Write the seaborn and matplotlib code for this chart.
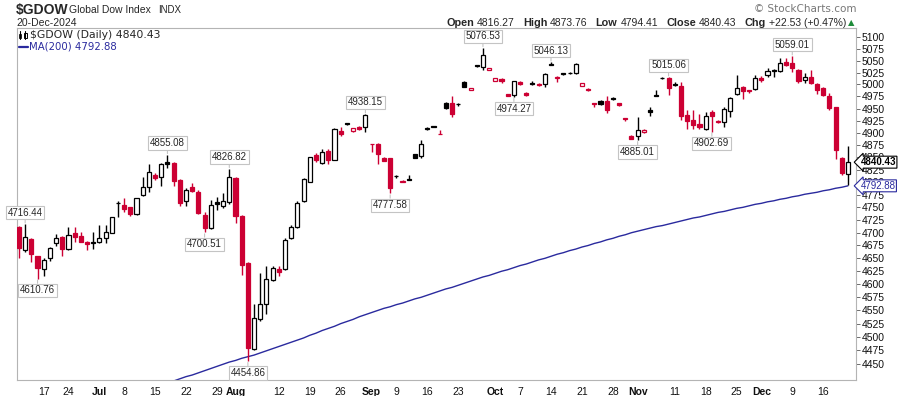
import numpy as np
import pandas as pd
import matplotlib
matplotlib.use("Agg")
import matplotlib.pyplot as plt
from matplotlib.ticker import FixedLocator, NullLocator, FuncFormatter
from matplotlib.patches import Rectangle
from matplotlib.lines import Line2D
import seaborn as sns

# ---------------- data ----------------
first_day = "2024-06-11"
last_day = "2024-12-20"
market_holidays = ["2024-06-19", "2024-07-04", "2024-09-02", "2024-11-28"]
prior_close = 4700.0

opens = [
    4711.8, 4666.3, 4688.0, 4654.6, 4628.7, 4650.1, 4679.4, 4692.2, 4667.6, 4698.8,
    4693.5, 4682.4, 4682.0, 4681.2, 4689.1, 4700.2, 4758.5, 4754.6, 4750.1, 4736.3,
    4773.9, 4789.9, 4814.6, 4811.5, 4840.0, 4838.5, 4805.5, 4761.7, 4789.9, 4781.0,
    4734.8, 4709.8, 4760.0, 4752.5, 4761.1, 4809.0, 4733.0, 4641.5, 4476.6, 4533.9,
    4562.4, 4608.0, 4628.7, 4628.7, 4689.0, 4710.6, 4762.8, 4801.5, 4854.6, 4839.0,
    4862.7, 4845.7, 4903.0, 4920.0, 4904.0, 4912.7, 4911.0, 4878.0, 4878.0, 4848.5,
    4848.5, 4813.0, 4801.0, 4807.0, 4857.0, 4852.0, 4909.5, 4914.0, 4898.5, 4961.0,
    4961.0, 4960.0, 5006.0, 4988.3, 5040.0, 5036.5, 5031.0, 5008.0, 5012.0, 4979.5,
    4978.0, 5005.0, 4981.5, 5002.0, 5001.5, 5000.0, 5042.0, 5013.0, 5023.0, 5025.0,
    5024.0, 4997.5, 4990.5, 4961.5, 4966.0, 4966.0, 4971.0, 4961.5, 4930.5, 4894.0,
    4893.5, 4901.0, 4948.0, 4978.3, 5014.0, 5013.0, 5000.0, 4997.5, 4936.0, 4926.0,
    4918.0, 4908.5, 4943.0, 4925.0, 4923.0, 4944.5, 4980.0, 4995.3, 4987.5, 4990.0,
    5013.0, 5018.8, 5030.0, 5027.8, 5046.5, 5044.0, 5031.0, 5010.0, 5016.0, 5001.7,
    4993.0, 4976.0, 4953.3, 4849.5, 4816.27]
highs = [
    4713.2, 4716.44, 4689.0, 4655.5, 4651.3, 4672.7, 4696.9, 4693.5, 4712.2, 4710.8,
    4701.8, 4683.0, 4700.6, 4715.5, 4715.5, 4731.5, 4761.7, 4767.9, 4751.4, 4769.2,
    4811.2, 4836.3, 4819.3, 4838.0, 4855.08, 4840.0, 4806.0, 4788.0, 4799.0, 4785.0,
    4740.0, 4764.6, 4770.6, 4778.0, 4826.82, 4811.0, 4734.0, 4642.0, 4562.0, 4621.8,
    4634.8, 4635.0, 4635.0, 4690.0, 4715.3, 4762.8, 4808.5, 4851.5, 4858.0, 4868.0,
    4868.0, 4909.8, 4911.0, 4921.0, 4910.0, 4914.0, 4938.15, 4878.0, 4878.5, 4850.0,
    4849.0, 4815.5, 4804.0, 4815.5, 4857.5, 4884.6, 4911.0, 4915.0, 4906.0, 4964.0,
    4975.6, 4962.0, 5007.0, 4993.0, 5040.5, 5076.53, 5035.5, 5013.5, 5012.5, 4980.0,
    5007.0, 5006.5, 4983.5, 5006.5, 5002.0, 5024.0, 5046.13, 5017.0, 5025.0, 5026.5,
    5045.0, 5002.5, 4992.0, 4962.0, 4967.0, 4975.7, 4974.0, 4962.0, 4931.0, 4895.0,
    4932.3, 4907.0, 4953.0, 4988.0, 5015.0, 5015.06, 5005.0, 5006.0, 4946.0, 4946.0,
    4938.0, 4942.0, 4948.0, 4926.0, 4953.0, 4974.7, 5019.0, 4996.0, 4989.0, 5019.0,
    5017.0, 5034.0, 5032.0, 5054.5, 5054.5, 5059.01, 5033.0, 5024.8, 5030.0, 5003.0,
    4994.5, 4983.0, 4953.5, 4851.5, 4873.76]
lows = [
    4650.1, 4662.9, 4643.0, 4610.76, 4615.8, 4644.9, 4674.0, 4654.6, 4666.3, 4682.4,
    4681.2, 4666.3, 4667.6, 4679.2, 4680.4, 4699.0, 4730.3, 4741.5, 4732.8, 4735.0,
    4771.9, 4780.0, 4804.0, 4793.5, 4829.0, 4793.5, 4753.0, 4753.0, 4781.0, 4737.0,
    4700.51, 4707.3, 4744.0, 4748.0, 4757.0, 4718.6, 4617.0, 4454.86, 4476.0, 4529.3,
    4543.0, 4606.0, 4616.0, 4627.5, 4688.0, 4708.6, 4761.0, 4800.0, 4841.0, 4837.0,
    4837.0, 4844.5, 4894.0, 4916.0, 4902.0, 4905.0, 4902.0, 4861.0, 4836.0, 4842.0,
    4777.58, 4808.5, 4800.0, 4804.5, 4848.0, 4849.0, 4906.0, 4911.0, 4898.5, 4950.0,
    4932.0, 4956.0, 4995.0, 4988.0, 5036.0, 5031.0, 5031.0, 5008.0, 5004.0, 4975.0,
    4974.27, 4999.5, 4976.0, 4998.0, 4997.0, 4993.7, 5040.0, 5006.0, 5019.0, 5022.0,
    5022.8, 4996.0, 4986.0, 4954.0, 4958.0, 4940.0, 4967.5, 4955.5, 4925.0, 4887.0,
    4885.01, 4900.0, 4934.0, 4976.0, 5011.5, 4978.0, 4997.0, 4926.0, 4907.0, 4908.0,
    4908.0, 4905.0, 4902.69, 4920.5, 4911.0, 4932.0, 4978.0, 4970.0, 4983.0, 4988.0,
    5005.0, 5016.0, 5015.0, 5026.0, 5039.0, 5026.0, 5003.0, 5004.0, 5000.0, 4980.0,
    4977.0, 4948.0, 4847.0, 4815.0, 4794.41]
closes = [
    4669.6, 4692.2, 4657.9, 4631.8, 4646.7, 4670.7, 4690.3, 4667.6, 4695.4, 4692.2,
    4682.4, 4677.3, 4679.0, 4689.1, 4700.8, 4730.3, 4757.8, 4746.8, 4736.3, 4767.9,
    4791.1, 4820.0, 4809.3, 4836.7, 4837.5, 4803.1, 4759.3, 4784.9, 4783.1, 4738.5,
    4709.0, 4754.6, 4756.0, 4763.5, 4811.5, 4733.0, 4637.0, 4478.6, 4535.8, 4562.4,
    4609.3, 4632.2, 4624.0, 4686.5, 4711.8, 4759.3, 4806.5, 4850.3, 4845.7, 4860.7,
    4845.7, 4907.7, 4897.9, 4918.5, 4909.0, 4907.7, 4936.5, 4878.0, 4856.0, 4843.0,
    4789.0, 4812.0, 4803.0, 4805.0, 4849.0, 4878.0, 4907.5, 4912.5, 4898.5, 4951.0,
    4938.0, 4958.5, 4995.6, 4992.8, 5038.5, 5061.0, 5035.0, 5013.0, 5006.5, 4976.0,
    5006.5, 5001.7, 4979.0, 5000.0, 4998.5, 5022.0, 5041.0, 5016.5, 5022.0, 5024.0,
    5042.0, 5002.0, 4989.0, 4959.0, 4959.5, 4947.0, 4969.0, 4957.5, 4927.5, 4888.0,
    4906.0, 4905.5, 4943.0, 4977.0, 5013.5, 4993.5, 4999.0, 4934.0, 4924.5, 4916.0,
    4911.0, 4935.0, 4934.0, 4922.0, 4948.7, 4971.0, 4992.6, 4987.0, 4985.5, 5014.0,
    5010.0, 5027.5, 5028.5, 5045.5, 5041.0, 5035.5, 5007.0, 5015.5, 5004.0, 4989.0,
    4979.0, 4951.5, 4866.0, 4817.9, 4840.43]

ma200_start = "2024-07-17"
ma200 = [
    4414, 4418, 4422, 4426, 4429, 4433, 4437, 4441, 4445, 4449,
    4453, 4456, 4460, 4463, 4466, 4470, 4474, 4478, 4482, 4486,
    4490, 4494, 4498, 4503, 4507, 4512, 4516, 4520, 4525, 4529,
    4533, 4538, 4542, 4546, 4550, 4554, 4557, 4561, 4564, 4568,
    4572, 4575, 4579, 4583, 4587, 4591, 4594, 4598, 4602, 4606,
    4610, 4614, 4617, 4621, 4625, 4628, 4632, 4636, 4639, 4643,
    4647, 4650, 4654, 4658, 4661, 4665, 4668, 4672, 4675, 4679,
    4682, 4686, 4689, 4693, 4696, 4700, 4703, 4706, 4709, 4712,
    4714, 4717, 4720, 4723, 4726, 4729, 4731, 4734, 4737, 4740,
    4742, 4745, 4748, 4750, 4753, 4756, 4758, 4761, 4763, 4766,
    4768, 4771, 4773, 4776, 4778, 4780, 4783, 4785, 4788, 4790,
    4792.88]

tick_dates = ["2024-06-17", "2024-06-24", "2024-07-01", "2024-07-08", "2024-07-15",
              "2024-07-22", "2024-07-29", "2024-08-01", "2024-08-12", "2024-08-19",
              "2024-08-26", "2024-09-03", "2024-09-09", "2024-09-16", "2024-09-23",
              "2024-10-01", "2024-10-07", "2024-10-14", "2024-10-21", "2024-10-28",
              "2024-11-01", "2024-11-11", "2024-11-18", "2024-11-25", "2024-12-02",
              "2024-12-09", "2024-12-16"]
tick_labels = ["17", "24", "Jul", "8", "15", "22", "29", "Aug", "12", "19", "26",
               "Sep", "9", "16", "23", "Oct", "7", "14", "21", "28", "Nov", "11",
               "18", "25", "Dec", "9", "16"]
y_ticks = list(range(4450, 5101, 25))

high_label_dates = ["2024-06-12", "2024-07-17", "2024-07-31", "2024-08-30",
                    "2024-09-27", "2024-10-14", "2024-11-08", "2024-12-09"]
low_label_dates = ["2024-06-14", "2024-07-25", "2024-08-05", "2024-09-06",
                   "2024-10-04", "2024-11-01", "2024-11-19"]

# ---------------- style ----------------
RED = "#CC0033"
BLACK = "#000000"
NAVY = "#2A2A9E"
FRAME = "#B4B4B4"
W, H = 900, 396

sns.set_style("white")
plt.rcParams["font.family"] = ["Liberation Sans", "DejaVu Sans"]

dates = pd.bdate_range(first_day, last_day)
dates = dates[~dates.isin(pd.to_datetime(market_holidays))]
df = pd.DataFrame({"date": dates, "open": opens, "high": highs,
                   "low": lows, "close": closes})
df["pos"] = np.arange(len(df))
prev = df["close"].shift(1).fillna(prior_close)
df["color"] = np.where(df["close"] < prev, RED, BLACK)
df["face"] = np.where(df["close"] < df["open"], df["color"], "white")

fig = plt.figure(figsize=(W / 100, H / 100), dpi=100)
ax = fig.add_axes([17 / W, 16 / H, 839 / W, 352 / H])

# moving average
i0 = int(df.index[df["date"] == pd.Timestamp(ma200_start)][0])
ma_df = pd.DataFrame({"pos": df["pos"].iloc[i0:i0 + len(ma200)].values, "ma": ma200})
sns.lineplot(data=ma_df, x="pos", y="ma", ax=ax, color=NAVY, lw=1.0, zorder=1)

# candles
ax.vlines(df["pos"], df["low"], df["high"], colors=df["color"], lw=1.0, zorder=2)
body_h = (df["close"] - df["open"]).abs().clip(lower=0.01)
body_b = df[["open", "close"]].min(axis=1)
ax.bar(df["pos"], body_h, bottom=body_b, width=0.66, color=df["face"],
       edgecolor=df["color"], linewidth=0.9, zorder=3)

ax.set_yscale("log")
ax.set_ylim(4419.8, 5119.2)
ax.set_xlim(-0.32, 135.3)
ax.set_xlabel("")
ax.set_ylabel("")

ax.yaxis.set_major_locator(FixedLocator(y_ticks))
ax.yaxis.set_minor_locator(NullLocator())
ax.yaxis.set_major_formatter(FuncFormatter(lambda v, p: f"{v:.0f}"))
ax.yaxis.tick_right()
ax.tick_params(axis="y", which="major", length=3, width=0.6, color="#555555",
               labelsize=7.5, pad=1, labelcolor="#111111")

tick_pos = [int(df.index[df["date"] == pd.Timestamp(d)][0]) for d in tick_dates]
ax.set_xticks(tick_pos)
ax.set_xticklabels(tick_labels)
for lab, txt in zip(ax.get_xticklabels(), tick_labels):
    if txt.isalpha():
        lab.set_fontweight("bold")
        lab.set_fontsize(8)
ax.set_xticks(df["pos"], minor=True)
ax.tick_params(axis="x", which="major", length=3, width=0.6, color="#888888",
               labelsize=7.5, pad=2, labelcolor="#111111")
ax.tick_params(axis="x", which="minor", length=1.5, width=0.5, color="#aaaaaa")
for s in ax.spines.values():
    s.set_color(FRAME)
    s.set_linewidth(0.8)

# high / low annotations
box = dict(boxstyle="square,pad=0.18", fc="white", ec="#C4C4C4", lw=0.8)
arrow = dict(arrowstyle="-", color="#C4C4C4", lw=0.8, shrinkA=0, shrinkB=1)
for d in high_label_dates:
    r = df[df["date"] == pd.Timestamp(d)].iloc[0]
    ax.annotate(f"{r['high']:.2f}", xy=(r["pos"], r["high"]), xytext=(0, 8.5),
                textcoords="offset points", ha="center", va="center", fontsize=7,
                bbox=box, arrowprops=arrow, zorder=5, annotation_clip=False)
for d in low_label_dates:
    r = df[df["date"] == pd.Timestamp(d)].iloc[0]
    ax.annotate(f"{r['low']:.2f}", xy=(r["pos"], r["low"]), xytext=(0, -8.5),
                textcoords="offset points", ha="center", va="center", fontsize=7,
                bbox=box, arrowprops=arrow, zorder=5, annotation_clip=False)

# right side value tags
last_close = closes[-1]
last_ma = ma200[-1]
ax.annotate(f"{last_close:.2f}", xy=(1, last_close), xycoords=("axes fraction", "data"),
            xytext=(3.2, 0), textcoords="offset points", ha="left", va="center",
            fontsize=7, fontweight="bold", color="black",
            bbox=dict(boxstyle="larrow,pad=0.1", fc="white", ec="black", lw=0.8),
            zorder=6, annotation_clip=False)
ax.annotate(f"{last_ma:.2f}", xy=(1, last_ma), xycoords=("axes fraction", "data"),
            xytext=(3.2, 0), textcoords="offset points", ha="left", va="center",
            fontsize=7, color=NAVY,
            bbox=dict(boxstyle="larrow,pad=0.1", fc="white", ec=NAVY, lw=0.8),
            zorder=6, annotation_clip=False)


# ---------------- header ----------------
def fx(x):
    return x / W


def fy(y):
    return 1 - y / H


fig.text(fx(16), fy(10), "$GDOW", fontsize=10, fontweight="bold", va="center")
fig.text(fx(69), fy(10), "Global Dow Index", fontsize=7.5, va="center")
fig.text(fx(158), fy(10), "INDX", fontsize=7, va="center")
fig.text(fx(16), fy(23), "20-Dec-2024", fontsize=7.5, va="center")
fig.text(fx(857), fy(9.5), "\u00a9 StockCharts.com", fontsize=7.5, color="#777777",
         va="center", ha="right", family=["DejaVu Sans"])

chg = closes[-1] - closes[-2]
pct = chg / closes[-2] * 100
pieces = [("Open", "bold", 3), (f"{opens[-1]:.2f}", "normal", 8),
          ("High", "bold", 3), (f"{highs[-1]:.2f}", "normal", 8),
          ("Low", "bold", 3), (f"{lows[-1]:.2f}", "normal", 8),
          ("Close", "bold", 3), (f"{closes[-1]:.2f}", "normal", 8),
          ("Chg", "bold", 3), (f"{chg:+.2f} ({pct:+.2f}%)", "normal", 0)]
renderer = fig.canvas.get_renderer()
arts, widths = [], []
for s, wgt, gap in pieces:
    t = fig.text(0, fy(23), s, fontsize=7.8 if wgt == "bold" else 7.5,
                 fontweight=wgt, va="center", ha="left")
    arts.append(t)
    widths.append(t.get_window_extent(renderer).width + gap)
x = 846 - sum(widths)
for t, wd in zip(arts, widths):
    t.set_x(fx(x))
    x += wd
fig.text(fx(848), fy(22.5), "\u25b2", fontsize=6, color="#1E8C3A", va="center",
         family=["DejaVu Sans"])

# legend inside plot
fig.text(fx(30), fy(35), f"$GDOW (Daily) {closes[-1]:.2f}", fontsize=7.8,
         va="center", family=["DejaVu Sans"])
fig.text(fx(29), fy(46.5), f"MA(200) {ma200[-1]:.2f}", fontsize=7.3,
         va="center", color=NAVY, family=["DejaVu Sans"])
fig.add_artist(Line2D([fx(18.5), fx(28)], [fy(46.5), fy(46.5)], color=NAVY, lw=1.6))
fig.add_artist(Line2D([fx(20), fx(20)], [fy(31), fy(39)], color="black", lw=0.8))
fig.add_artist(Rectangle((fx(19), fy(37.5)), 2 / W, 4 / H, fc="black", ec="black", lw=0.5))
fig.add_artist(Line2D([fx(25), fx(25)], [fy(31), fy(39)], color="black", lw=0.8))
fig.add_artist(Rectangle((fx(23.5), fy(38)), 3 / W, 5 / H, fc="white", ec="black", lw=0.7))

fig.savefig("out.png", dpi=100)
